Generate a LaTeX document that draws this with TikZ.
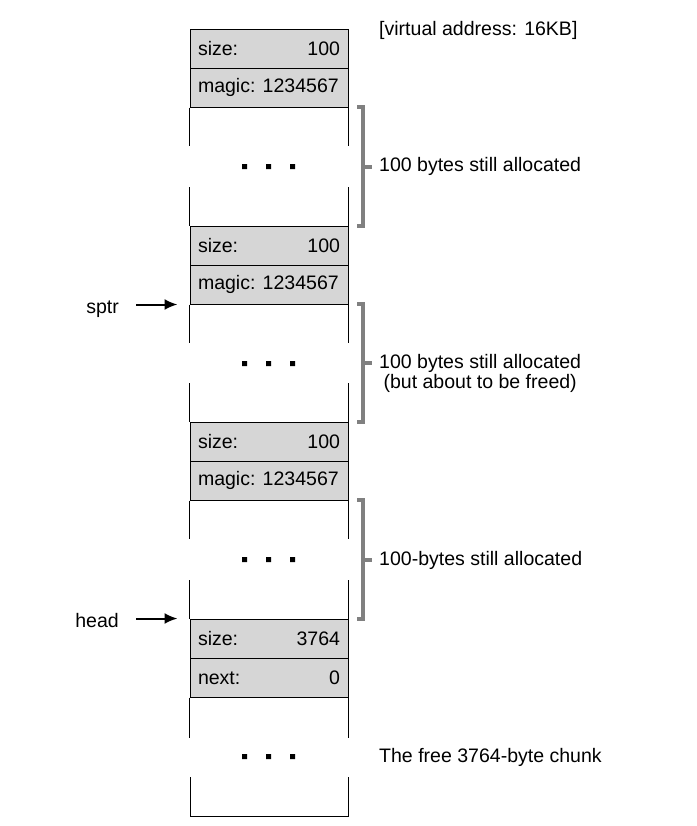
\documentclass[tikz,border=0pt]{standalone}
\usepackage{fontspec}
\setmainfont{Liberation Sans}
\usetikzlibrary{arrows.meta,positioning}

\newcommand\cellrow[2]{\makebox[142bp]{#1\hfill #2}}

\begin{document}
\begin{tikzpicture}[
    x=1bp, y=-1bp,
    cell/.style={rectangle, draw=black, line width=1bp, fill=black!16, minimum width=158bp, inner xsep=0pt, inner ysep=0pt, minimum height=39bp, font=\fontsize{19.6}{19.6}\selectfont},
    side/.style={line width=1bp},
    brace/.style={draw=black!50, line width=4bp},
    note/.style={font=\fontsize{19.6}{19.6}\selectfont, inner sep=1bp, align=center},
    arrow/.style={-{Latex[length=13bp,width=11bp]}, line width=2bp},
]
\useasboundingbox (0,0) rectangle (697,826);

% Headers
\node[cell] (size1) at (269,48.5) {\cellrow{size:}{100}};
\node[cell] (magic1) at (269,87.5) {\cellrow{magic: 1234567}{}};
\node[cell] (size2) at (269,245.5) {\cellrow{size:}{100}};
\node[cell] (magic2) at (269,284.5) {\cellrow{magic: 1234567}{}};
\node[cell] (size3) at (269,441.5) {\cellrow{size:}{100}};
\node[cell] (magic3) at (269,480.5) {\cellrow{magic: 1234567}{}};
\node[cell] (fsize) at (269,638.5) {\cellrow{size:}{3764}};
\node[cell] (fnext) at (269,677.5) {\cellrow{next:}{0}};

% Chunk sides
\draw[side] (magic1.south west) -- ++(0,38) (magic1.south east) -- ++(0,38);
\draw[side] (size2.north west) -- ++(0,-39) (size2.north east) -- ++(0,-39);
\draw[side] (magic2.south west) -- ++(0,38) (magic2.south east) -- ++(0,38);
\draw[side] (size3.north west) -- ++(0,-39) (size3.north east) -- ++(0,-39);
\draw[side] (magic3.south west) -- ++(0,38) (magic3.south east) -- ++(0,38);
\draw[side] (fsize.north west) -- ++(0,-39) (fsize.north east) -- ++(0,-39);
\draw[side] (fnext.south west) -- ++(0,40) (fnext.south east) -- ++(0,40);
\draw[side] (190,777) -- (190,816) -- (348,816) -- (348,777);

% Dots
\fill (242,164) rectangle ++(5,5) (266,164) rectangle ++(5,5) (290,164) rectangle ++(5,5);
\fill (242,361) rectangle ++(5,5) (266,361) rectangle ++(5,5) (290,361) rectangle ++(5,5);
\fill (242,557) rectangle ++(5,5) (266,557) rectangle ++(5,5) (290,557) rectangle ++(5,5);
\fill (242,754) rectangle ++(5,5) (266,754) rectangle ++(5,5) (290,754) rectangle ++(5,5);

% Brackets
\draw[brace] (357,107) -- (363,107) -- (363,226) -- (357,226) (363,166.5) -- (372,166.5);
\draw[brace] (357,304) -- (363,304) -- (363,422) -- (357,422) (363,363) -- (372,363);
\draw[brace] (357,500) -- (363,500) -- (363,619) -- (357,619) (363,559.5) -- (372,559.5);

% Labels
\node[note, anchor=west] (vaddr) at (378,30) {[virtual address: 16KB]};
\node[note, anchor=west] (lab1) at (378,166.5) {100 bytes still allocated};
\node[note, anchor=west] (lab2) at (378,373.5) {100 bytes still allocated\\(but about to be freed)};
\node[note, anchor=west] (lab3) at (378,560) {100-bytes still allocated};
\node[note, anchor=west] (lab4) at (378,757) {The free 3764-byte chunk};

% Pointers
\node[note, anchor=base east] (sptr) at (120,313) {sptr};
\node[note, anchor=base east] (head) at (120,627) {head};
\draw[arrow, shorten <=16bp, shorten >=12bp] (sptr.east |- magic2.south west) -- (magic2.south west);
\draw[arrow, shorten <=16bp, shorten >=12bp] (head.east |- fsize.north west) -- (fsize.north west);

\end{tikzpicture}
\end{document}
